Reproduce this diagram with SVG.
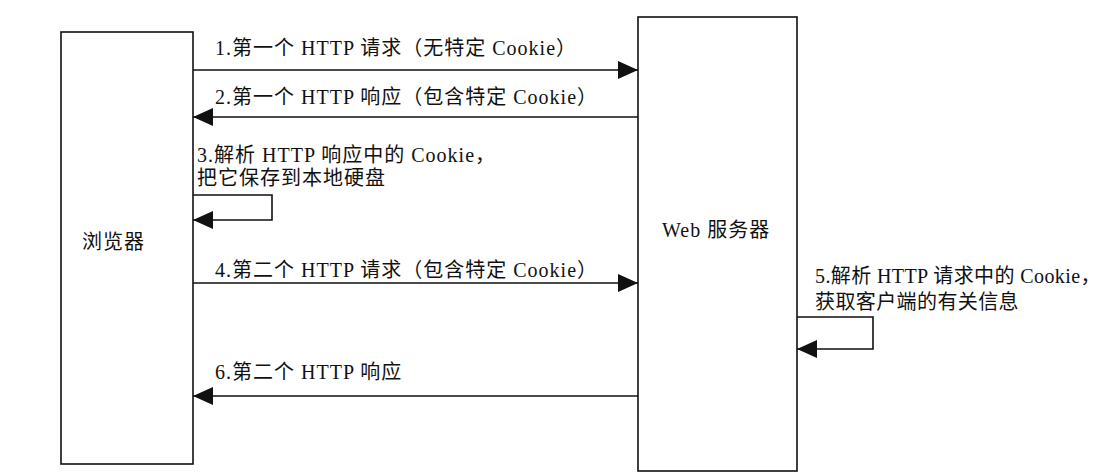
<svg xmlns="http://www.w3.org/2000/svg" width="1112" height="474" viewBox="0 0 1112 474">
<style>
.box{fill:#fff;stroke:#111;stroke-width:1.6}
.ln{fill:none;stroke:#111;stroke-width:1.6}
text{font-family:"Liberation Serif","Noto Sans CJK SC",serif;font-size:20px;fill:#111;letter-spacing:1px}
text.tight{letter-spacing:0.4px}
</style>
<defs>
<marker id="ah" markerUnits="userSpaceOnUse" markerWidth="22" markerHeight="20" refX="20" refY="9" orient="auto">
<path d="M0,0 L20,9 L0,18 Z" fill="#111"/>
</marker>
</defs>
<rect width="1112" height="474" fill="#fff"/>
<g id="browser">
<rect class="box" x="61" y="32" width="132" height="432"/>
<text x="82" y="249">浏览器</text>
</g>
<g id="server">
<rect class="box" x="638" y="17" width="159" height="454"/>
<text x="662" y="237">Web 服务器</text>
</g>
<g id="connectors">
<line class="ln" x1="193" y1="70" x2="638" y2="70" marker-end="url(#ah)"/>
<text x="215" y="55">1.第一个 HTTP 请求（无特定 Cookie）</text>
<line class="ln" x1="638" y1="117" x2="193" y2="117" marker-end="url(#ah)"/>
<text x="215" y="104">2.第一个 HTTP 响应（包含特定 Cookie）</text>
<path class="ln" d="M193,195 H272 V220 H193" marker-end="url(#ah)"/>
<text x="197" y="162">3.解析 HTTP 响应中的 Cookie，</text>
<text x="197" y="185">把它保存到本地硬盘</text>
<line class="ln" x1="193" y1="283" x2="638" y2="283" marker-end="url(#ah)"/>
<text x="215" y="277">4.第二个 HTTP 请求（包含特定 Cookie）</text>
<path class="ln" d="M797,317 H873 V349 H797" marker-end="url(#ah)"/>
<text class="tight" x="815" y="283">5.解析 HTTP 请求中的 Cookie，</text>
<text class="tight" x="815" y="309">获取客户端的有关信息</text>
<line class="ln" x1="638" y1="396" x2="193" y2="396" marker-end="url(#ah)"/>
<text x="215" y="379">6.第二个 HTTP 响应</text>
</g>
</svg>
